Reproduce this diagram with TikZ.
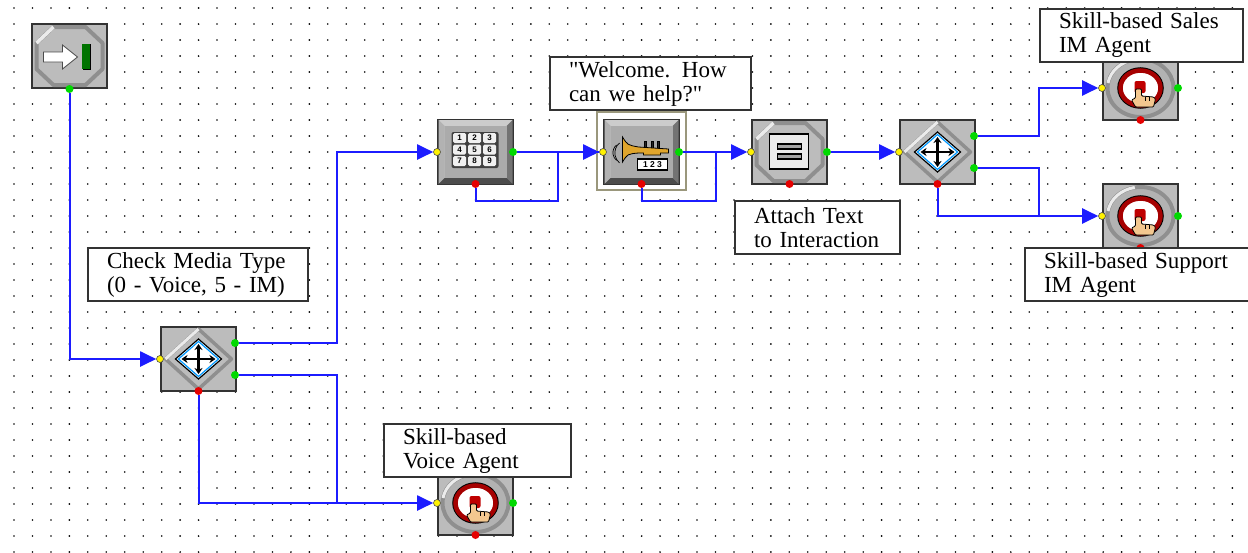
\documentclass[tikz,border=0pt]{standalone}
\usepackage{fontspec}
\setmainfont{Liberation Serif}
\setsansfont{Liberation Sans}
\usetikzlibrary{arrows.meta}
\definecolor{wireblue}{HTML}{1C1CFF}
\definecolor{panelgray}{HTML}{BCBCBC}
\definecolor{edgegray}{HTML}{333333}
\definecolor{bevelgray}{HTML}{8F8F8F}
\definecolor{gold}{HTML}{E0A52C}
\definecolor{skin}{HTML}{F3C78F}
\pgfdeclarelayer{wires}
\pgfsetlayers{wires,main}
\tikzset{
  griddot/.style={black,radius=0.9pt},
  panel/.style={rectangle,draw=edgegray,line width=2pt,fill=panelgray,minimum width=75pt,minimum height=64pt,inner sep=0pt},
  note/.style={rectangle,draw=edgegray,line width=2pt,fill=white,anchor=north west,inner xsep=19pt,inner ysep=0pt,minimum height=53pt,align=left,font=\fontsize{23}{24}\selectfont},
  wire/.style={wireblue,line width=2pt},
  arrowwire/.style={wire,-{Triangle[length=16pt,width=15pt]}},
  portL/.style={circle,fill=yellow,draw=black!70,line width=0.6pt,inner sep=0pt,minimum size=7pt},
  portR/.style={circle,fill=green!85!black,inner sep=0pt,minimum size=8pt},
  portB/.style={circle,fill=red!90!black,inner sep=0pt,minimum size=8pt},
  bevelbox/.pic={
    \fill[black!20] (-37,-32)--(37,-32)--(31,-26)--(-31,-26)--cycle;
    \fill[black!30] (-37,-32)--(-31,-26)--(-31,26)--(-37,32)--cycle;
    \fill[black!55] (37,-32)--(31,-26)--(31,26)--(37,32)--cycle;
    \fill[black!70] (-37,32)--(-31,26)--(31,26)--(37,32)--cycle;
    \fill[black!33] (-31,-26) rectangle (31,26);
  },
  octbevel/.pic={
    \draw[bevelgray,line width=4pt,line join=round] (-16,-29)--(16,-29)--(33,-13)--(33,13)--(16,29)--(-16,29)--(-33,13)--(-33,-13)--cycle;
    \draw[black!8,line width=3.5pt] (-33,-13)--(-16,-29);
  },
  startmark/.pic={
    \pic {octbevel};
    \draw[black!70,fill=white,line width=0.8pt] (-26,-4)--(-7,-4)--(-7,-11)--(8,1)--(-7,13)--(-7,6)--(-26,6)--cycle;
    \fill[black] (13,-12) rectangle (21,14);
    \fill[green!45!black] (12,-12) rectangle (20,13);
  },
  attachmark/.pic={
    \pic {octbevel};
    \draw[black,fill=black!8,line width=1.2pt] (-20,-18) rectangle (19,17);
    \draw[black,fill=black!35,line width=1.2pt] (-12,-8) rectangle (12,-3);
    \draw[black,fill=black!35,line width=1.2pt] (-12,2) rectangle (12,7);
  },
  branchmark/.pic={
    \draw[bevelgray,line width=3.5pt,line join=round] (-33,0)--(0,-30)--(33,0)--(0,30)--cycle;
    \draw[black!8,line width=3pt] (-33,0)--(0,-30);
    \draw[black,fill=white,line width=1.2pt] (-23,0)--(0,-20)--(23,0)--(0,20)--cycle;
    \draw[blue!40!cyan,line width=1.2pt] (-20,0)--(0,-17.5)--(20,0)--(0,17.5)--cycle;
    \draw[black,line width=2.4pt,{Stealth[length=6pt,width=8pt]}-{Stealth[length=6pt,width=8pt]}] (-17,0)--(17,0);
    \draw[black,line width=2.4pt,{Stealth[length=6pt,width=8pt]}-{Stealth[length=6pt,width=8pt]}] (0,-15)--(0,15);
  },
  targetmark/.pic={
    \draw[bevelgray,line width=4pt,fill=black!30] (0,0) ellipse [x radius=33pt,y radius=29pt];
    \draw[black!8,line width=3pt] ([shift={(100:33pt and 29pt)}]0,0) arc [start angle=100,end angle=170,x radius=33pt,y radius=29pt];
    \draw[black,line width=5.5pt] (0,0) ellipse [x radius=20.5pt,y radius=18pt];
    \draw[red!65!black,fill=white,line width=4.5pt] (0,0) ellipse [x radius=20pt,y radius=17.5pt];
    \fill[red!75!black,rounded corners=2pt] (-6,-7) rectangle (5,5);
    \draw[black,fill=skin,line width=0.8pt,rounded corners=1pt] (-5,1)--(-5,10)--(-9,12)--(-5,19)--(13,19)--(15,11)--(13,9)--(1,8)--(1,1)--cycle;
    \draw[black,line width=0.6pt] (5,9)--(5,13) (9,9)--(9,13);
  },
  keypadmark/.pic={
    \pic {bevelbox};
    \fill[black!75,rounded corners=2pt] (-24,-20) rectangle (23,16);
    \foreach \k/\x/\y in {1/-16/-14,2/-1/-14,3/14/-14,4/-16/-2.5,5/-1/-2.5,6/14/-2.5,7/-16/9,8/-1/9,9/14/9}{
      \node (key\k) at (\x,\y) [rectangle,rounded corners=1.5pt,fill=black!6,minimum width=13pt,minimum height=10pt,inner sep=0pt,font=\sffamily\bfseries\fontsize{8}{8}\selectfont]{\k};
    }
  },
  trumpetmark/.pic={
    \pic {bevelbox};
    \draw[black,line width=0.7pt] (-22,-9) arc [start angle=130,end angle=230,radius=13pt];
    \draw[black,line width=0.7pt] (-25,-7) arc [start angle=130,end angle=230,radius=10pt];
    \draw[black,fill=black!85,line width=0.6pt] (3,-11) rectangle (5,-4) (10,-11) rectangle (12,-4) (16,-11) rectangle (18,-4);
    \draw[black,fill=gold,line width=0.8pt] (-19,-15) .. controls (-14,-7) .. (-3,-5)--(27,-3)--(27,1)--(19,1)--(19,3)--(2,3)--(2,1)--(-3,1) .. controls (-14,2) .. (-19,10)--cycle;
    \draw[black,fill=white,line width=1.2pt] (-4,7) rectangle (26,18);
    \node (signdigits) at (11,12.5) [inner sep=0pt,font=\sffamily\bfseries\fontsize{8.5}{8.5}\selectfont]{1 2 3};
  }
}
\begin{document}
\begin{tikzpicture}[x=1pt,y=-1pt]
\useasboundingbox (0,0) rectangle (1248,552);

\node (start) at (69.5,56) [panel]{};
\node (keypad) at (475.5,152) [panel]{};
\node (trumpet) at (641.5,152) [panel]{};
\node (attach) at (789.5,152) [panel]{};
\node (split) at (937.5,152) [panel]{};
\node (sales) at (1140.5,88) [panel]{};
\node (support) at (1140.5,216) [panel]{};
\node (check) at (198.5,359) [panel]{};
\node (voice) at (475.5,503) [panel]{};

\pic at (start) {startmark};
\pic at (keypad) {keypadmark};
\pic at (trumpet) {trumpetmark};
\pic at (attach) {attachmark};
\pic at (split) {branchmark};
\pic at (check) {branchmark};
\pic at (sales) {targetmark};
\pic at (support) {targetmark};
\pic at (voice) {targetmark};

% ports
\node (start-b) at (start.south) [portR]{};
\foreach \n in {keypad,trumpet,attach,sales,support,voice}{
  \node (\n-l) at (\n.west) [portL]{};
  \node (\n-r) at ([xshift=-1pt]\n.east) [portR]{};
  \node (\n-b) at ([yshift=1pt]\n.south) [portB]{};
}
\foreach \n in {split,check}{
  \node (\n-l) at (\n.west) [portL]{};
  \node (\n-a) at ([xshift=-2pt,yshift=16pt]\n.east) [portR]{};
  \node (\n-c) at ([xshift=-2pt,yshift=-16pt]\n.east) [portR]{};
  \node (\n-b) at ([yshift=1pt]\n.south) [portB]{};
}

\coordinate (checktop) at (337,152);
\coordinate (checkjoin) at (337,503);
\coordinate (keyjoin) at (558,152);
\coordinate (trumpetjoin) at (716,152);
\coordinate (salesjoin) at (1039,88);
\coordinate (splitjoin) at (1039,216);

\begin{pgfonlayer}{wires}
\fill[white] (0,0) rectangle (1248,552);
\foreach \i in {0,...,67}{
  \foreach \j in {0,...,34}{
    \fill[griddot] (14+18.46*\i,8+16*\j) circle;
  }
}
\draw[arrowwire] (keypad-r)--(trumpet-l);
\node (frame) at (641.5,151) [rectangle,draw=black!35!yellow!30!gray,line width=1.5pt,fill=white,minimum width=89pt,minimum height=78pt,inner sep=0pt]{};
\draw[wire] (frame.west |- trumpet-l)--(trumpet-l);
\draw[arrowwire] (start-b)|-(check-l);
\draw[arrowwire] (check-a)-|(checktop)--(keypad-l);
\draw[wire] (check-c)-|(checkjoin);
\draw[arrowwire] (check-b)|-(voice-l);
\draw[wire] (keypad-b)--++(0,17)-|(keyjoin);
\draw[arrowwire] (trumpet-r)--(attach-l);
\draw[wire] (trumpet-b)--++(0,17)-|(trumpetjoin);
\draw[arrowwire] (attach-r)--(split-l);
\draw[arrowwire] (split-a)-|(salesjoin)--(sales-l);
\draw[wire] (split-c)-|(splitjoin);
\draw[arrowwire] (split-b)|-(support-l);
\end{pgfonlayer}

\node (checknote) at (87,247) [note,text width=182pt]{Check Media Type\\(0 - Voice, 5 - IM)};
\node (welcomenote) at (549,56) [note,text width=163pt]{\textquotedbl Welcome. How\\can we help?\textquotedbl};
\node (attachnote) at (734,200) [note,text width=127pt]{\mbox{Attach Text}\\\mbox{to Interaction}};
\node (salesnote) at (1039,8) [note,text width=165pt]{Skill-based Sales\\IM Agent};
\node (supportnote) at (1024,247) [note,text width=190pt]{\mbox{Skill-based Support}\\IM Agent};
\node (voicenote) at (383,423) [note,text width=149pt]{Skill-based\\Voice Agent};
\end{tikzpicture}
\end{document}
